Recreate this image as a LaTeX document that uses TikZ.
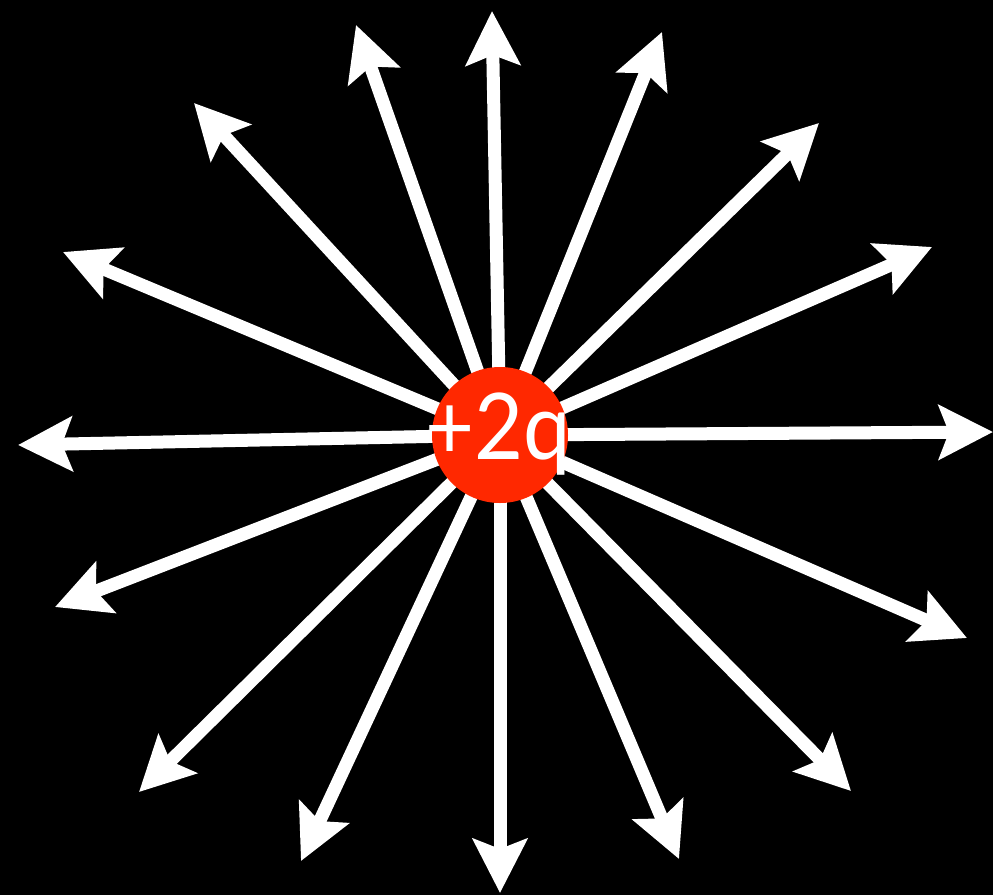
\documentclass[tikz,border=0pt]{standalone}
\usepackage{fontspec}
\setmainfont{Lato}
\usetikzlibrary{arrows.meta}
\definecolor{chargered}{RGB}{255,40,0}
\begin{document}
\begin{tikzpicture}[x=1pt,y=-1pt,
  fieldline/.style={draw=white,line width=13pt,-{Stealth[length=54pt,width=54pt,inset=10pt]}},
  chargenode/.style={circle,fill=chargered,draw=none,minimum size=136pt,inner sep=0pt},
  chargelabel/.style={text=white,inner sep=0pt,xscale=0.92,font=\fontsize{92}{92}\selectfont}]
\fill[black] (0,0) rectangle (993,895);
\useasboundingbox (0,0) rectangle (993,895);
\coordinate (o) at (500,435);
\coordinate (t1) at (492,11);
\coordinate (t2) at (356,25);
\coordinate (t3) at (194,103);
\coordinate (t4) at (63,252);
\coordinate (t5) at (18,445);
\coordinate (t6) at (55,607);
\coordinate (t7) at (139,792);
\coordinate (t8) at (301,861);
\coordinate (t9) at (500,893);
\coordinate (t10) at (679,859);
\coordinate (t11) at (851,791);
\coordinate (t12) at (967,638);
\coordinate (t13) at (993,432);
\coordinate (t14) at (932,247);
\coordinate (t15) at (819,123);
\coordinate (t16) at (662,32);
\foreach \i in {1,...,16} {\draw[fieldline] (o) -- (t\i);}
\node[chargenode] (q) at (o) {};
\node[chargelabel,anchor=base] (lbl) at (498,459) {+2q};
\end{tikzpicture}
\end{document}
